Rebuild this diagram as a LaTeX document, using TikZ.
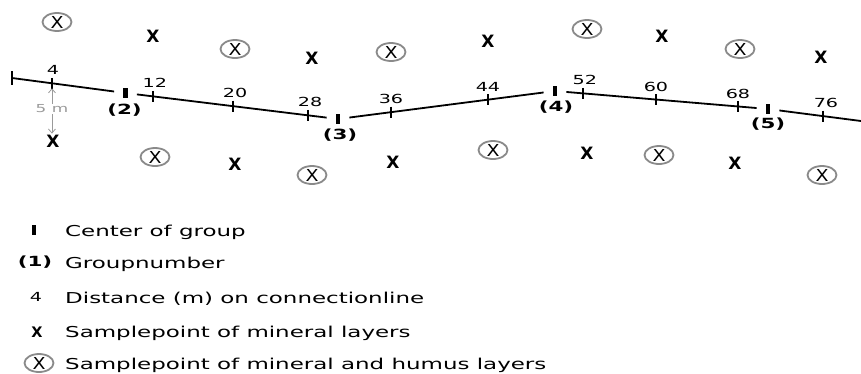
\documentclass[tikz,border=0pt]{standalone}
\usepackage{fontspec}
\setmainfont{DejaVu Sans}[FakeStretch=1.53]
\newfontfamily\xfont{DejaVu Sans}
\newfontfamily\xsfont{DejaVu Sans}[FakeStretch=1.15]
\usetikzlibrary{shapes.geometric, arrows.meta, calc}
\definecolor{ringgray}{HTML}{8A8A8A}
\definecolor{dimgray}{HTML}{9A9A9A}
\begin{document}
\begin{tikzpicture}[x=1pt,y=-1pt,
  mainline/.style={line width=1.8pt, black},
  seg/.style={mainline, shorten <=9pt, shorten >=9pt},
  tickmk/.style={line width=1.4pt, black},
  grpbox/.style={rectangle, fill=black, inner sep=0pt, minimum width=4.5pt, minimum height=10pt},
  ticklbl/.style={inner sep=0pt, font=\fontsize{12.5}{14}\selectfont},
  grplbl/.style={inner sep=0pt, font=\fontsize{14}{16}\selectfont\bfseries},
  mx/.style={inner sep=0pt, font=\xfont\fontsize{17}{19}\selectfont\bfseries},
  hx/.style={ellipse, draw=ringgray, line width=1.8pt, inner sep=0pt,
    minimum width=29pt, minimum height=18pt, font=\xsfont\fontsize{16.5}{19}\selectfont},
  leg/.style={anchor=base west, inner sep=0pt, font=\fontsize{15}{18}\selectfont},
  dim/.style={draw=dimgray, line width=0.8pt, {Straight Barb[length=4pt,width=7pt]}-{Straight Barb[length=4pt,width=7pt]}},
  dimtxt/.style={text=dimgray, fill=white, inner sep=1pt, font=\fontsize{11}{13}\selectfont}
]
\useasboundingbox (0,0) rectangle (861,373);

% connection line anchors
\coordinate (s) at (12,78);
\node[grpbox] (m2) at (125.5,93) {};
\node[grpbox] (m3) at (338,119) {};
\node[grpbox] (m4) at (555,91) {};
\node[grpbox] (m5) at (768,109) {};
\coordinate (e) at (861,121);

\draw[line width=2.6pt] ($(s)+(0,-7)$) -- ($(s)+(0,7)$);
\draw[mainline, shorten >=9pt] (s) -- (m2);
\draw[seg] (m2) -- (m3);
\draw[seg] (m3) -- (m4);
\draw[seg] (m4) -- (m5);
\draw[mainline, shorten <=9pt] (m5) -- (e);

% ticks
\coordinate (t4) at ($(s)!0.352!(m2)$);
\coordinate (t12) at ($(m2)!0.129!(m3)$);
\coordinate (t20) at ($(m2)!0.506!(m3)$);
\coordinate (t28) at ($(m2)!0.859!(m3)$);
\coordinate (t36) at ($(m3)!0.244!(m4)$);
\coordinate (t44) at ($(m3)!0.691!(m4)$);
\coordinate (t52) at ($(m4)!0.131!(m5)$);
\coordinate (t60) at ($(m4)!0.474!(m5)$);
\coordinate (t68) at ($(m4)!0.859!(m5)$);
\coordinate (t76) at ($(m5)!0.591!(e)$);
\foreach \t in {t4,t12,t20,t28,t36,t44,t52,t60,t68,t76}
  \draw[tickmk] ($(\t)+(0,-5.5)$) -- ($(\t)+(0,5.5)$);

\node[ticklbl] (l4)  at ($(t4)+(1,-13)$) {4};
\node[ticklbl] (l12) at ($(t12)+(2,-13)$) {12};
\node[ticklbl] (l20) at ($(t20)+(2,-13)$) {20};
\node[ticklbl] (l28) at ($(t28)+(2,-13)$) {28};
\node[ticklbl] (l36) at ($(t36)+(0,-13)$) {36};
\node[ticklbl] (l44) at ($(t44)+(0,-13)$) {44};
\node[ticklbl] (l52) at ($(t52)+(2,-13)$) {52};
\node[ticklbl] (l60) at ($(t60)+(0,-13)$) {60};
\node[ticklbl] (l68) at ($(t68)+(0,-13)$) {68};
\node[ticklbl] (l76) at ($(t76)+(3,-13)$) {76};

% group numbers
\node[grplbl] (g2) at ($(m2)+(-1,17)$) {(2)};
\node[grplbl] (g3) at ($(m3)+(2,16)$) {(3)};
\node[grplbl] (g4) at ($(m4)+(1,16)$) {(4)};
\node[grplbl] (g5) at ($(m5)+(0,15)$) {(5)};

% sample points of mineral layers
\node[mx] (x1)  at (53,141) {X};
\node[mx] (x2)  at (153,36) {X};
\node[mx] (x3)  at (312,58) {X};
\node[mx] (x4)  at (488,41) {X};
\node[mx] (x5)  at (662,36) {X};
\node[mx] (x6)  at (821,57) {X};
\node[mx] (x7)  at (235,164) {X};
\node[mx] (x8)  at (393,162) {X};
\node[mx] (x9)  at (587,153) {X};
\node[mx] (x10) at (735,163) {X};

% sample points of mineral and humus layers
\node[hx] (h1)  at (57,22) {X};
\node[hx] (h2)  at (235,49) {X};
\node[hx] (h3)  at (391,52) {X};
\node[hx] (h4)  at (587,29) {X};
\node[hx] (h5)  at (740,49) {X};
\node[hx] (h6)  at (155,157) {X};
\node[hx] (h7)  at (312,175) {X};
\node[hx] (h8)  at (493,150) {X};
\node[hx] (h9)  at (659,155) {X};
\node[hx] (h10) at (822,175) {X};

% 5 m dimension
\draw[dim, shorten <=5pt, shorten >=1pt] (t4) -- (t4 |- x1.north) node[midway, dimtxt] (d5) {5 m};

% legend
\node[grpbox] (k1) at (34,230) {};
\node[grplbl] (k2) at (35,262) {(1)};
\node[ticklbl] (k3) at (36,297) {4};
\node[mx, font=\xfont\fontsize{14.5}{17}\selectfont\bfseries] (k4) at (37,332) {X};
\node[hx] (k5) at (39,363) {X};
\node[leg] (kt1) at (65,236) {Center of group};
\node[leg] (kt2) at (65,268) {Groupnumber};
\node[leg] (kt3) at (65,303) {Distance (m) on connectionline};
\node[leg] (kt4) at (65,337) {Samplepoint of mineral layers};
\node[leg] (kt5) at (65,369) {Samplepoint of mineral and humus layers};
\end{tikzpicture}
\end{document}
